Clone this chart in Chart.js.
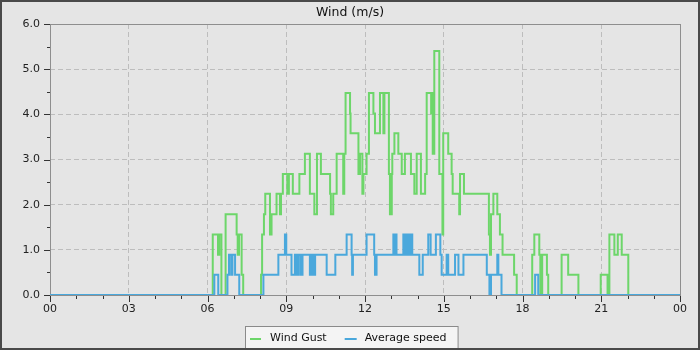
<!DOCTYPE html>
<html><head><meta charset="utf-8">
<script src="https://cdn.jsdelivr.net/npm/chart.js@4/dist/chart.umd.min.js"></script>
<style>html,body{margin:0;padding:0;background:#e5e5e5;}canvas{display:block}</style>
</head><body>
<canvas id="c" width="700" height="350"></canvas>
<script>
// ---- data ----
const chartTitle = 'Wind (m/s)';
const seriesNames = ['Wind Gust', 'Average speed'];
const hourTicks  = [0, 3, 6, 9, 12, 15, 18, 21, 24];
const hourLabels = ['00', '03', '06', '09', '12', '15', '18', '21', '00'];
const yMajorTicks = [0, 1, 2, 3, 4, 5, 6];

// step change points: value holds from time[i] until time[i+1] (hours)
const gustTimes = [0, 6.20, 6.40, 6.45, 6.53, 6.69, 7.11, 7.15, 7.20, 7.30, 7.36,
  8.04, 8.08, 8.15, 8.20, 8.38, 8.44, 8.63, 8.76, 8.80, 8.87, 9.04, 9.10, 9.25, 9.50,
  9.71, 9.90, 10.07, 10.17, 10.32, 10.67, 10.70, 10.79, 10.92, 11.17, 11.21, 11.26,
  11.43, 11.45, 11.75, 11.81, 11.90, 11.94, 12.06, 12.15, 12.32, 12.38, 12.57,
  12.70, 12.74, 12.91, 12.95, 13.02, 13.04, 13.12, 13.27, 13.40, 13.52, 13.75,
  13.88, 13.97, 14.13, 14.29, 14.35, 14.52, 14.56, 14.58, 14.64, 14.83, 14.95, 14.98,
  15.17, 15.30, 15.34, 15.59, 15.62, 15.77, 16.72, 16.76, 16.80, 16.89, 17.04, 17.14,
  17.24, 17.68, 17.78, 18.37, 18.45, 18.64, 18.68, 18.75, 18.93, 18.98, 19.49, 19.74,
  20.13, 20.98, 21.24, 21.31, 21.50, 21.63, 21.78, 22.03, 24];
const gustValues = [0, 1.34, 0.89, 1.34, 0, 1.79, 1.34, 0.89, 1.34, 0.45, 0,
  0.45, 1.34, 1.79, 2.24, 1.34, 1.79, 2.24, 1.79, 2.24, 2.68, 2.24, 2.68, 2.24, 2.68,
  3.13, 2.24, 1.79, 3.13, 2.68, 2.24, 1.79, 2.24, 3.13, 2.24, 3.13, 4.47,
  4.02, 3.58, 2.68, 3.13, 2.24, 2.68, 3.13, 4.47, 4.02, 3.58, 4.47,
  3.58, 4.47, 2.68, 1.79, 2.68, 3.13, 3.58, 3.13, 2.68, 3.13, 2.68,
  2.24, 3.13, 2.24, 2.68, 4.47, 4.02, 4.47, 3.13, 5.40, 2.68, 1.34, 3.58,
  3.13, 2.68, 2.24, 1.79, 2.68, 2.24, 1.34, 0.89, 1.79, 2.24, 1.79, 1.34,
  0.89, 0.45, 0, 0.89, 1.34, 0.89, 0, 0.89, 0.45, 0, 0.89, 0.45,
  0, 0.45, 0, 1.34, 0.89, 1.34, 0.89, 0, 0];

const avgTimes = [0, 6.26, 6.41, 6.76, 6.82, 6.90, 6.95, 7.05, 7.21,
  8.13, 8.70, 8.95, 9.00, 9.20, 9.33, 9.40, 9.47, 9.55, 9.62, 9.90, 9.97, 10.03, 10.10,
  10.54, 10.87, 11.30, 11.49, 11.51, 11.54, 12.06, 12.35, 12.38, 12.44, 13.08, 13.12,
  13.15, 13.20, 13.46, 13.52, 13.56, 13.60, 13.66, 13.72, 13.76, 13.80, 14.07, 14.20,
  14.41, 14.50, 14.70, 14.87, 14.92, 15.11, 15.17, 15.43, 15.56, 15.75, 16.64, 16.74,
  16.80, 17.04, 17.08, 17.20, 18.48, 18.60, 24];
const avgValues = [0, 0.45, 0, 0.45, 0.89, 0.45, 0.89, 0.45, 0,
  0.45, 0.89, 1.34, 0.89, 0.45, 0.89, 0.45, 0.89, 0.45, 0.89, 0.45, 0.89, 0.45, 0.89,
  0.45, 0.89, 1.34, 0.89, 0.45, 0.89, 1.34, 0.89, 0.45, 0.89, 1.34, 0.89,
  1.34, 0.89, 1.34, 0.89, 1.34, 0.89, 1.34, 0.89, 1.34, 0.89, 0.45, 0.89,
  1.34, 0.89, 1.34, 0.89, 0.45, 0.89, 0.45, 0.89, 0.45, 0.89, 0.45, 0,
  0.45, 0.89, 0.45, 0, 0.45, 0, 0];

// ---- styling ----
const FONT = 'DejaVu Sans';
const GUST_COLOR = '#6dd66a';
const AVG_COLOR = '#4aa8dc';
const AXIS_COLOR = '#8e8e8e';
const GRID_COLOR = '#bdbdbd';
const TICK_COLOR = '#333333';

const toPoints = (t, v) => t.map((x, i) => ({x: x, y: v[i]}));

const framePlugin = {
  id: 'frame',
  beforeDraw(chart) {
    const ctx = chart.ctx, W = chart.width, H = chart.height;
    ctx.save();
    ctx.fillStyle = '#4a4a4a';
    ctx.fillRect(0, 0, W, H);
    ctx.fillStyle = '#e5e5e5';
    ctx.fillRect(2, 2, W - 4, H - 4);
    ctx.restore();
  },
  beforeDatasetsDraw(chart) {
    const {ctx, chartArea: a} = chart;
    ctx.save();
    ctx.strokeStyle = AXIS_COLOR;
    ctx.lineWidth = 1;
    ctx.strokeRect(a.left + 0.5, a.top + 0.5, a.right - a.left, a.bottom - a.top);
    ctx.restore();
  },
  afterDraw(chart) {
    const {ctx, chartArea: a, scales} = chart;
    const W = chart.width;
    ctx.save();
    // tick marks
    ctx.strokeStyle = TICK_COLOR;
    ctx.lineWidth = 1;
    ctx.beginPath();
    for (let h = 0; h <= 24; h++) {
      const px = Math.round(scales.x.getPixelForValue(h)) + 0.5;
      const len = hourTicks.includes(h) ? 6 : 3;
      ctx.moveTo(px, a.bottom + 1);
      ctx.lineTo(px, a.bottom + 1 + len);
    }
    for (let k = 0; k <= 12; k++) {
      const v = k / 2;
      const py = Math.round(scales.y.getPixelForValue(v)) + 0.5;
      const len = yMajorTicks.includes(v) ? 6 : 3;
      ctx.moveTo(a.left, py);
      ctx.lineTo(a.left - len, py);
    }
    ctx.stroke();

    // title
    ctx.fillStyle = '#111111';
    ctx.font = '12.5px "' + FONT + '"';
    ctx.textAlign = 'center';
    ctx.textBaseline = 'alphabetic';
    ctx.fillText(chartTitle, W / 2, 16);

    // legend
    ctx.font = '11px "' + FONT + '"';
    ctx.textAlign = 'left';
    const colors = [GUST_COLOR, AVG_COLOR];
    const w0 = ctx.measureText(seriesNames[0]).width;
    const w1 = ctx.measureText(seriesNames[1]).width;
    const total = 5 + 11 + 9 + w0 + 18 + 12 + 8 + w1 + 11;
    const left = Math.round(W / 2 + 1 - total / 2) + 0.5;
    const top = 326.5;
    ctx.fillStyle = '#f4f4f4';
    ctx.fillRect(left, top, total, 30);
    ctx.strokeStyle = '#8a8a8a';
    ctx.strokeRect(left, top, total, 30);
    let x = left + 4.5;
    const widths = [11, 12];
    const gaps = [9, 8];
    const tw = [w0, w1];
    for (let i = 0; i < 2; i++) {
      ctx.strokeStyle = colors[i];
      ctx.lineWidth = 2;
      ctx.beginPath();
      ctx.moveTo(x, 339);
      ctx.lineTo(x + widths[i], 339);
      ctx.stroke();
      x += widths[i] + gaps[i];
      ctx.fillStyle = '#111111';
      ctx.fillText(seriesNames[i], x, 341);
      x += tw[i] + 18;
    }
    // redraw bottom border over legend
    ctx.fillStyle = '#4a4a4a';
    ctx.fillRect(0, chart.height - 2, W, 2);
    ctx.restore();
  }
};

new Chart(document.getElementById('c'), {
  type: 'line',
  data: {
    datasets: [
      {label: seriesNames[1], data: toPoints(avgTimes, avgValues), borderColor: AVG_COLOR,
       borderWidth: 2, pointRadius: 0, stepped: true, order: 0, fill: false},
      {label: seriesNames[0], data: toPoints(gustTimes, gustValues), borderColor: GUST_COLOR,
       borderWidth: 2, pointRadius: 0, stepped: true, order: 1, fill: false}
    ]
  },
  options: {
    responsive: false,
    animation: false,
    events: [],
    layout: {padding: {left: 0, right: 20, top: 24, bottom: 30}},
    plugins: {legend: {display: false}, title: {display: false}, tooltip: {enabled: false}},
    scales: {
      x: {
        type: 'linear', min: 0, max: 24,
        afterFit(s) { s.height = 25; },
        ticks: {
          stepSize: 1, autoSkip: false, maxRotation: 0, minRotation: 0, padding: 2,
          font: {family: FONT, size: 11}, color: '#222222',
          callback: (v) => { const i = hourTicks.indexOf(v); return i >= 0 ? hourLabels[i] : ''; }
        },
        grid: {
          color: (c) => (c.tick && hourTicks.includes(c.tick.value) && c.tick.value > 0 && c.tick.value < 24) ? GRID_COLOR : 'rgba(0,0,0,0)',
          lineWidth: 1, drawTicks: true, tickLength: 6, tickColor: 'rgba(0,0,0,0)'
        },
        border: {display: false, dash: [5, 3]}
      },
      y: {
        min: 0, max: 6,
        afterFit(s) { s.width = 50; },
        ticks: {
          stepSize: 0.5, autoSkip: false, padding: 4,
          font: {family: FONT, size: 11}, color: '#222222',
          callback: (v) => yMajorTicks.includes(v) ? v.toFixed(1) : ''
        },
        grid: {
          color: (c) => (c.tick && yMajorTicks.includes(c.tick.value) && c.tick.value > 0 && c.tick.value < 6) ? GRID_COLOR : 'rgba(0,0,0,0)',
          lineWidth: 1, drawTicks: true, tickLength: 6, tickColor: 'rgba(0,0,0,0)'
        },
        border: {display: false, dash: [5, 3]}
      }
    }
  },
  plugins: [framePlugin]
});
</script>
</body></html>
